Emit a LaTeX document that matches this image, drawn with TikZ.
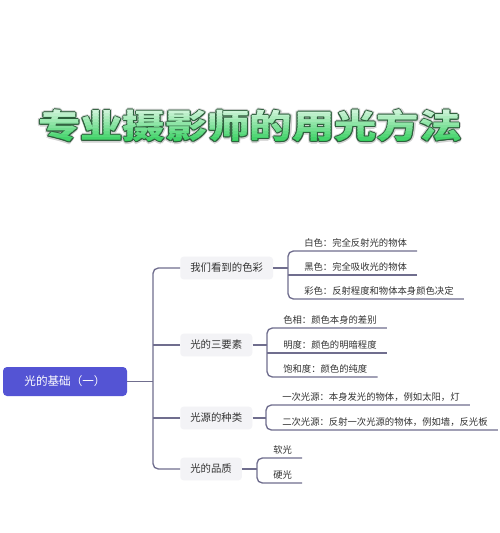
\documentclass[tikz,border=0pt]{standalone}
\usepackage{fontspec}
\newfontfamily\cjk{Noto Sans CJK SC}
\definecolor{rootc}{RGB}{84,84,212}
\definecolor{linec}{RGB}{112,110,142}
\definecolor{boxc}{RGB}{243,243,246}
\definecolor{txtc}{RGB}{51,51,51}
\definecolor{tgreen}{RGB}{40,205,85}
\definecolor{tedge}{RGB}{45,95,60}
\newcommand{\ttl}{\scalebox{1.27}[1]{专业摄影师的用光方法}}
\begin{document}
\begin{tikzpicture}[x=0.75pt,y=-0.75pt,
  conn/.style={draw=linec,line width=1pt},
  lvl/.style={fill=boxc,text=txtc,font=\cjk\fontsize{7.8}{9}\selectfont,rounded corners=2.5pt,inner xsep=7.5pt,minimum height=17pt,anchor=west},
  leaf/.style={text=txtc,font=\cjk\fontsize{7}{8}\selectfont,anchor=south west,inner xsep=7.5pt,inner ysep=3.4pt,text depth=0pt},
  rootbox/.style={fill=rootc,text=white,rounded corners=3pt,minimum width=93pt,minimum height=21.75pt,font=\cjk\fontsize{8.7}{10}\selectfont},
  title/.style={font=\cjk\bfseries\fontsize{25}{30}\selectfont,inner sep=0pt}]
\fill[white] (0,0) rectangle (500,533);
\useasboundingbox (0,0) rectangle (500,533);

% title: soft shadow, outline, gradient fill
\foreach \dx/\dy [count=\k] in {2.2/0,-2.2/0,0/2.2,0/-2.2,1.6/1.6,-1.6/1.6,1.6/-1.6,-1.6/-1.6}
  \node[title,text=black!18] (g\k) at (250+\dx,126+\dy) {\ttl};
\foreach \dx/\dy [count=\k] in {1/0,-1/0,0/1,0/-1,0.75/0.75,-0.75/0.75,0.75/-0.75,-0.75/-0.75}
  \node[title,text=tedge] (o\k) at (250+\dx,126+\dy) {\ttl};
\foreach \i in {0,...,13}{
  \pgfmathsetmacro\ya{104+3*\i}
  \pgfmathsetmacro\yb{\ya+3.3}
  \pgfmathtruncatemacro\pc{10+7*\i}
  \begin{scope}
    \clip (0,\ya) rectangle (500,\yb);
    \node[title,text=tgreen!\pc!white] (f\i) at (250,126) {\ttl};
  \end{scope}
}

% root
\node[rootbox] (root) at (65,381.5) {光的基础（一）};
\coordinate (ttop) at (153,268);

% level 1
\node[lvl] (l1) at (180,268) {我们看到的色彩};
\node[lvl] (l2) at (180,345) {光的三要素};
\node[lvl] (l3) at (180,418) {光源的种类};
\node[lvl] (l4) at (180,469) {光的品质};

\draw[conn,rounded corners=4pt] (l1.west) -- (l1.west -| ttop) -- (l4.west -| ttop) -- (l4.west);
\draw[conn] (l2.west) -- (l2.west -| ttop);
\draw[conn] (l3.west) -- (l3.west -| ttop);
\draw[conn] (root.east) -- (root.east -| ttop);

% group 1
\coordinate (k1) at (288,268);
\node[leaf] (c11) at (294,251) {白色：完全反射光的物体};
\node[leaf] (c12) at (294,275) {黑色：完全吸收光的物体};
\node[leaf] (c13) at (294,299) {彩色：反射程度和物体本身颜色决定};
\draw[conn] (l1.east) -- (k1);
\draw[conn,rounded corners=4pt] (c11.south east) -- (c11.south east -| k1) -- (c13.south east -| k1) -- (c13.south east);
\draw[conn] (c12.south east) -- (c12.south east -| k1);

% group 2
\coordinate (k2) at (267,345);
\node[leaf] (c21) at (273,328) {色相：颜色本身的差别};
\node[leaf] (c22) at (273,353) {明度：颜色的明暗程度};
\node[leaf] (c23) at (273,377) {饱和度：颜色的纯度};
\draw[conn] (l2.east) -- (k2);
\draw[conn,rounded corners=4pt] (c21.south east) -- (c21.south east -| k2) -- (c23.south east -| k2) -- (c23.south east);
\draw[conn] (c22.south east) -- (c22.south east -| k2);

% group 3
\coordinate (k3) at (266,418);
\node[leaf] (c31) at (272,405) {一次光源：本身发光的物体，例如太阳，灯};
\node[leaf] (c32) at (272,430) {二次光源：反射一次光源的物体，例如墙，反光板};
\draw[conn] (l3.east) -- (k3);
\draw[conn,rounded corners=4pt] (c31.south east) -- (c31.south east -| k3) -- (c32.south east -| k3) -- (c32.south east);

% group 4
\coordinate (k4) at (257,469);
\node[leaf] (c41) at (263,458) {软光};
\node[leaf] (c42) at (263,483) {硬光};
\draw[conn] (l4.east) -- (k4);
\draw[conn,rounded corners=4pt] (c41.south east) -- (c41.south east -| k4) -- (c42.south east -| k4) -- (c42.south east);
\end{tikzpicture}
\end{document}
